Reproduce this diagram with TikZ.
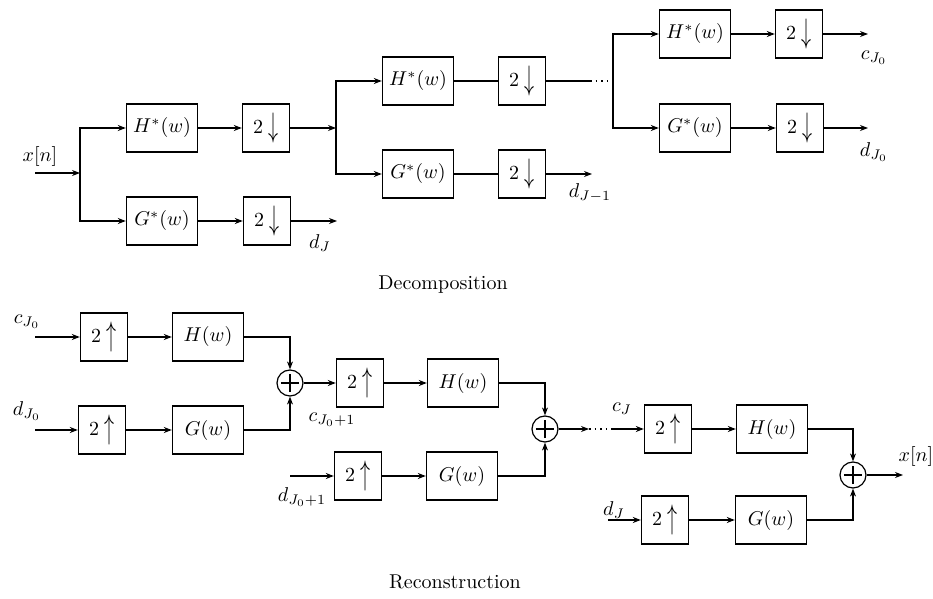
\documentclass[tikz,border=0pt]{standalone}
\usepackage{graphicx}
\usetikzlibrary{arrows.meta}
\tikzset{
  bigbox/.style={draw, line width=0.7pt, minimum width=35.5pt, minimum height=24pt, inner sep=0pt},
  smallbox/.style={draw, line width=0.7pt, minimum width=23.5pt, minimum height=24pt, inner sep=0pt},
  adder/.style={circle, draw, line width=0.6pt, minimum size=13pt, inner sep=0pt,
    path picture={
      \draw[line width=0.6pt] ([xshift=-4.6pt]path picture bounding box.center) -- ([xshift=4.6pt]path picture bounding box.center);
      \draw[line width=0.6pt] ([yshift=-4.6pt]path picture bounding box.center) -- ([yshift=4.6pt]path picture bounding box.center);}},
  arr/.style={-{Stealth[length=4pt,width=3pt]}, line width=0.6pt},
  ln/.style={line width=0.6pt},
  dots/.style={line width=0.8pt, dash pattern=on 0.8pt off 2pt},
  lbl/.style={inner sep=0pt},
}
\newcommand{\dn}{$2\;$\raisebox{-0.35ex}{\scalebox{1}[1.7]{$\downarrow$}}}
\newcommand{\up}{$2\;$\raisebox{-0.35ex}{\scalebox{1}[1.7]{$\uparrow$}}}
\begin{document}
\begin{tikzpicture}[x=0.5pt,y=-0.5pt]
\useasboundingbox (0,0) rectangle (933,599);

% ---------------- Decomposition ----------------
\coordinate (xin) at (35,173);
\coordinate (b1) at (80,173);
\node[bigbox]   (H1)  at (162,128) {$H^*(w)$};
\node[smallbox] (D1)  at (266,128) {\dn};
\node[bigbox]   (G1)  at (162,221) {$G^*(w)$};
\node[smallbox] (D1g) at (267,221) {\dn};
\coordinate (dJend) at (337,221);

\coordinate (b2) at (336,128);
\node[bigbox]   (H2)  at (418,81) {$H^*(w)$};
\node[smallbox] (D2)  at (522,81) {\dn};
\node[bigbox]   (G2)  at (418,174) {$G^*(w)$};
\node[smallbox] (D2g) at (522,174) {\dn};
\coordinate (c2) at (590,81);
\coordinate (dJ1end) at (592,174);

\coordinate (b3) at (613,81);
\node[bigbox]   (H3)  at (695,34) {$H^*(w)$};
\node[smallbox] (D3)  at (799,34) {\dn};
\node[bigbox]   (G3)  at (695,128) {$G^*(w)$};
\node[smallbox] (D3g) at (800,128) {\dn};
\coordinate (cJ0end) at (868,34);
\coordinate (dJ0end) at (868,128);

\node[lbl] (lxn) at (40,157) {$x[n]$};
\node[lbl] (ldJ) at (320,243) {$d_{J}$};
\node[lbl] (ldJ1) at (590,193) {$d_{J-1}$};
\node[lbl] (lcJ0) at (874,58) {$c_{J_0}$};
\node[lbl] (ldJ0) at (874,152) {$d_{J_0}$};

\draw[arr] (xin) -- (b1);
\draw[arr] (b1) |- (H1);
\draw[arr] (b1) |- (G1);
\draw[arr] (H1) -- (D1);
\draw[arr] (G1) -- (D1g);
\draw[arr] (D1) -- (b2);
\draw[arr] (D1g) -- (dJend);

\draw[arr] (b2) |- (H2);
\draw[arr] (b2) |- (G2);
\draw[ln] (H2) -- (D2);
\draw[ln] (G2) -- (D2g);
\draw[ln] (D2) -- (c2);
\draw[dots] (c2) -- (b3);
\draw[arr] (D2g) -- (dJ1end);

\draw[arr] (b3) |- (H3);
\draw[arr] (b3) |- (G3);
\draw[arr] (H3) -- (D3);
\draw[arr] (G3) -- (D3g);
\draw[arr] (D3) -- (cJ0end);
\draw[arr] (D3g) -- (dJ0end);

\node (dec) at (443,285) {Decomposition};

% ---------------- Reconstruction ----------------
\coordinate (cin) at (35,337);
\coordinate (din) at (35,430);
\node[smallbox] (U1)  at (104,337) {\up};
\node[bigbox]   (HR1) at (208,337) {$H(w)$};
\node[smallbox] (U1g) at (102,430) {\up};
\node[bigbox]   (GR1) at (208,430) {$G(w)$};
\node[adder]    (A1)  at (290,383) {};

\node[smallbox] (U2)  at (360,383) {\up};
\node[bigbox]   (HR2) at (463,383) {$H(w)$};
\coordinate (din2) at (290,476);
\node[smallbox] (U2g) at (358,476) {\up};
\node[bigbox]   (GR2) at (462,476) {$G(w)$};
\node[adder]    (A2)  at (545,429) {};
\coordinate (a2out) at (589,429);
\coordinate (c3) at (612,429);

\node[smallbox] (U3)  at (668,429) {\up};
\node[bigbox]   (HR3) at (772,429) {$H(w)$};
\coordinate (din3) at (608,520);
\node[smallbox] (U3g) at (665,520) {\up};
\node[bigbox]   (GR3) at (771,520) {$G(w)$};
\node[adder]    (A3)  at (853,475) {};
\coordinate (xout) at (903,475);

\node[lbl] (lcJ0r) at (27,322) {$c_{J_0}$};
\node[lbl] (ldJ0r) at (27,411) {$d_{J_0}$};
\node[lbl] (lcJ01) at (332,420) {$c_{J_0+1}$};
\node[lbl] (ldJ01) at (302,497) {$d_{J_0+1}$};
\node[lbl] (lcJ) at (622,409) {$c_{J}$};
\node[lbl] (ldJr) at (614,510) {$d_{J}$};
\node[lbl] (lxnr) at (916,456) {$x[n]$};

\draw[arr] (cin) -- (U1);
\draw[arr] (U1) -- (HR1);
\draw[arr] (HR1) -| (A1);
\draw[arr] (din) -- (U1g);
\draw[arr] (U1g) -- (GR1);
\draw[arr] (GR1) -| (A1);
\draw[arr] (A1) -- (U2);
\draw[arr] (U2) -- (HR2);
\draw[arr] (HR2) -| (A2);
\draw[arr] (din2) -- (U2g);
\draw[arr] (U2g) -- (GR2);
\draw[arr] (GR2) -| (A2);
\draw[arr] (A2) -- (a2out);
\draw[dots] (a2out) -- (c3);
\draw[arr] (c3) -- (U3);
\draw[arr] (U3) -- (HR3);
\draw[arr] (HR3) -| (A3);
\draw[arr] (din3) -- (U3g);
\draw[arr] (U3g) -- (GR3);
\draw[arr] (GR3) -| (A3);
\draw[arr] (A3) -- (xout);

\node (rec) at (455,582) {Reconstruction};
\end{tikzpicture}
\end{document}
